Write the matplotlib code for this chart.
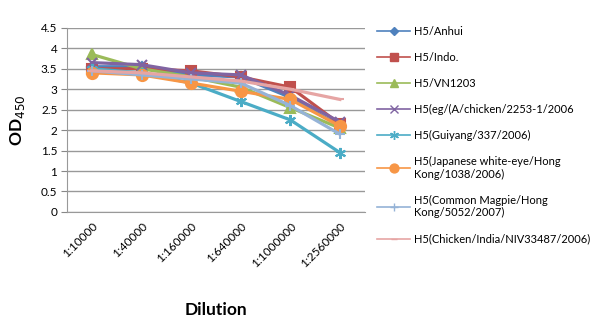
import matplotlib
matplotlib.use("Agg")
import matplotlib.pyplot as plt
from matplotlib.lines import Line2D

plt.rcParams["font.family"] = ["Lato", "DejaVu Sans"]

dilutions = ["1:10000", "1:40000", "1:160000", "1:640000", "1:1000000", "1:2560000"]

series_names = [
    "H5/Anhui",
    "H5/Indo.",
    "H5/VN1203",
    "H5(eg/(A/chicken/2253-1/2006",
    "H5(Guiyang/337/2006)",
    "H5(Japanese white-eye/Hong\nKong/1038/2006)",
    "H5(Common Magpie/Hong\nKong/5052/2007)",
    "H5(Chicken/India/NIV33487/2006)",
]

anhui = [3.55, 3.55, 3.35, 3.30, 2.80, 2.10]
indo = [3.50, 3.50, 3.45, 3.30, 3.05, 2.15]
vn1203 = [3.85, 3.50, 3.30, 3.05, 2.55, 2.05]
eg_chicken = [3.65, 3.60, 3.40, 3.35, 2.85, 2.20]
guiyang = [3.50, 3.40, 3.15, 2.70, 2.25, 1.45]
japanese = [3.40, 3.35, 3.15, 2.95, 2.75, 2.10]
magpie = [3.45, 3.35, 3.25, 3.15, 2.60, 1.90]
india = [3.45, 3.40, 3.30, 3.20, 3.00, 2.75]

values = [anhui, indo, vn1203, eg_chicken, guiyang, japanese, magpie, india]
colors = ["#4F81BD", "#C0504D", "#9BBB59", "#8064A2", "#4BACC6", "#F79646", "#95B3D7", "#E6A5A4"]
markers = ["D", "s", "^", "x", (6, 2, 0), "o", "+", "_"]
msizes = [5, 7, 7, 7, 8, 8, 7, 6]

fig = plt.figure(figsize=(5.94, 3.24), dpi=100)
ax = fig.add_axes([0.113, 0.346, 0.501, 0.568])

x = range(len(dilutions))
handles = []
for name, vals, c, m, ms in zip(series_names, values, colors, markers, msizes):
    ax.plot(x, vals, color=c, lw=2.3, marker=m, ms=ms, mew=1.5)
    # legend keys are drawn thinner, like the original
    handles.append(Line2D([], [], color=c, lw=1.2, marker=m, ms=ms * 0.8, mew=1.0))

ax.set_xlim(-0.5, len(dilutions) - 0.5)
ax.set_ylim(0, 4.5)
ax.set_yticks([i * 0.5 for i in range(10)])
ax.set_yticklabels(["0", "0.5", "1", "1.5", "2", "2.5", "3", "3.5", "4", "4.5"], fontsize=8.5)
ax.set_xticks(list(x))
ax.set_xticklabels(dilutions, rotation=45, ha="right", rotation_mode="anchor", fontsize=8.5)
ax.tick_params(axis="x", length=0, pad=6)
ax.tick_params(axis="y", length=4, color="#888888", pad=3)
ax.grid(axis="y", color="#999999", lw=1)
ax.set_axisbelow(True)
for s in ["top", "right"]:
    ax.spines[s].set_visible(False)
for s in ["left", "bottom"]:
    ax.spines[s].set_color("#999999")

ax.set_ylabel("OD$_{450}$", fontsize=12.5, fontweight="bold", labelpad=10)
ax.set_xlabel("Dilution", fontsize=12.5, fontweight="bold", labelpad=24)

fig.legend(handles, series_names, loc="upper left", bbox_to_anchor=(0.628, 0.935),
           frameon=False, fontsize=8, labelspacing=1.35, handlelength=2.9,
           handletextpad=0.4, borderaxespad=0)

fig.savefig("out.png", dpi=100)
